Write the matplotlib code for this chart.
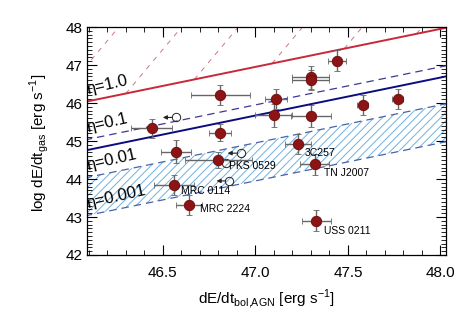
#!/usr/bin/env python3

"""Gas kinetic power vs. AGN bolometric luminosity with eta lines."""

import numpy as np
import matplotlib
matplotlib.use('Agg')
import matplotlib.pyplot as plt
from matplotlib.ticker import MultipleLocator, FormatStrFormatter

# Measured sources (log erg/s).
x = [46.44, 46.81, 46.81, 46.57, 46.80, 46.56, 46.64, 47.11, 47.10,
     47.30, 47.30, 47.30, 47.44, 47.58, 47.77, 47.23, 47.32, 47.33]
y = [45.33, 46.21, 45.22, 44.72, 44.50, 43.84, 43.32, 46.10, 45.68,
     45.66, 46.68, 46.61, 47.11, 45.95, 46.11, 44.92, 44.39, 42.90]
xerr = [0.11, 0.16, 0.06, 0.08, 0.18, 0.11, 0.07, 0.06, 0.10,
        0.11, 0.10, 0.10, 0.05, 0.03, 0.03, 0.07, 0.08, 0.08]
yerr = [0.26, 0.27, 0.22, 0.30, 0.20, 0.27, 0.26, 0.27, 0.30,
        0.30, 0.30, 0.27, 0.28, 0.26, 0.27, 0.27, 0.28, 0.28]

# Upper limits in dE/dt_bol.
lim_x = [46.57, 46.92, 46.84, 46.86]
lim_y = [45.62, 44.68, 44.43, 43.95]

# Source names.
names = ['PKS 0529', 'MRC 0114', 'MRC 2224', '3C257', 'TN J2007', 'USS 0211']
name_x = [46.86, 46.60, 46.70, 47.265, 47.37, 47.37]
name_y = [44.34, 43.68, 43.21, 44.68, 44.15, 42.64]

# Efficiency lines: log dE/dt_gas = log dE/dt_bol + log(eta) + offset.
eta = [1.0, 0.1, 0.01, 0.001]
eta_labels = ['\u03b7=1.0', '\u03b7=0.1', '\u03b7=0.01', '\u03b7=0.001']
eta_offset = -0.05
fit_offset = -1.33        # solid navy line

# Steep red dashed lines: where they leave the eta=1 line, and their slope.
steep_x0 = [45.89, 46.30, 46.67, 47.09, 47.48, 47.87]
steep_slope = 5.8

plt.rcParams['font.family'] = ['Liberation Sans', 'DejaVu Sans']
plt.rcParams['mathtext.fontset'] = 'custom'
plt.rcParams['mathtext.rm'] = 'Liberation Sans'
plt.rcParams['hatch.linewidth'] = 0.7

fig = plt.figure(figsize=(4.72, 3.14), dpi=100)
ax = fig.add_axes([0.1843, 0.1879, 0.7606, 0.7261])
xlo, xhi = 46.09, 48.03
ax.set_xlim(xlo, xhi)
ax.set_ylim(42, 48)

xx = np.array([xlo - 0.5, xhi + 0.5])

def eta_line(e, xs):
    return xs + np.log10(e) + eta_offset

# hatched band between eta=0.01 and eta=0.001
ax.fill_between(xx, eta_line(0.001, xx), eta_line(0.01, xx),
                facecolor='none', edgecolor='#6fb0e0', hatch='////',
                linewidth=0, zorder=1)
ax.plot(xx, eta_line(0.01, xx), color='#4a62a8', lw=0.9,
        dashes=(6, 4), zorder=2)
ax.plot(xx, eta_line(0.001, xx), color='#4a62a8', lw=0.9,
        dashes=(6, 4), zorder=2)
ax.plot(xx, eta_line(0.1, xx), color='#3a3a96', lw=0.9,
        dashes=(6, 4), zorder=2)
ax.plot(xx, eta_line(1.0, xx), color='#c8283a', lw=1.4, zorder=2)
ax.plot(xx, xx + fit_offset, color='#0c0c80', lw=1.4, zorder=2)

for x0 in steep_x0:
    y0 = eta_line(1.0, x0)
    x1 = x0 + (48.5 - y0) / steep_slope
    ax.plot([x0, x1], [y0, 48.5], color='#c77a80', lw=0.7,
            dashes=(5, 6), zorder=1)

for e, lab in zip(eta, eta_labels):
    ax.text(xlo + 0.005, eta_line(e, xlo) + 0.2, lab, fontsize=12,
            rotation=13, rotation_mode='anchor', ha='left', va='baseline',
            zorder=4)

ax.errorbar(x, y, xerr=xerr, yerr=yerr, fmt='o', ms=7.5,
            mfc='#8c1414', mec='#6a0a0a', mew=0.6, ecolor='#666666',
            elinewidth=1.0, capsize=2.5, capthick=1.0, zorder=5)

ax.plot(lim_x, lim_y, 'o', ms=6, mfc='none', mec='#222222', mew=0.7,
        zorder=4)
for lx, ly in zip(lim_x, lim_y):
    ax.annotate('', xy=(lx - 0.07, ly), xytext=(lx - 0.02, ly),
                arrowprops=dict(arrowstyle='-|>', lw=0.8, color='#222222',
                                mutation_scale=6, shrinkA=0, shrinkB=0),
                zorder=4)

for n, nx, ny in zip(names, name_x, name_y):
    ax.text(nx, ny, n, fontsize=7.5, ha='left', va='center', zorder=6)

ax.xaxis.set_major_locator(MultipleLocator(0.5))
ax.xaxis.set_minor_locator(MultipleLocator(0.1))
ax.xaxis.set_major_formatter(FormatStrFormatter('%.1f'))
ax.yaxis.set_major_locator(MultipleLocator(1))
ax.yaxis.set_minor_locator(MultipleLocator(0.1))
ax.tick_params(which='both', direction='in', top=True, right=True,
               labelsize=11)
ax.tick_params(which='major', length=7, width=0.8)
ax.tick_params(which='minor', length=3.5, width=0.6)
ax.tick_params(axis='x', pad=8)
ax.tick_params(axis='y', pad=3)
for sp in ax.spines.values():
    sp.set_linewidth(0.9)

ax.set_xlabel(r'dE/dt$_{\rm bol{,}AGN}$ [erg s$^{-1}$]', fontsize=11)
ax.set_ylabel(r'log dE/dt$_{\rm gas}$ [erg s$^{-1}$]', fontsize=11)
ax.xaxis.set_label_coords(0.5, -0.14)
ax.yaxis.set_label_coords(-0.10, 0.49)

fig.savefig('out.png', dpi=100)
